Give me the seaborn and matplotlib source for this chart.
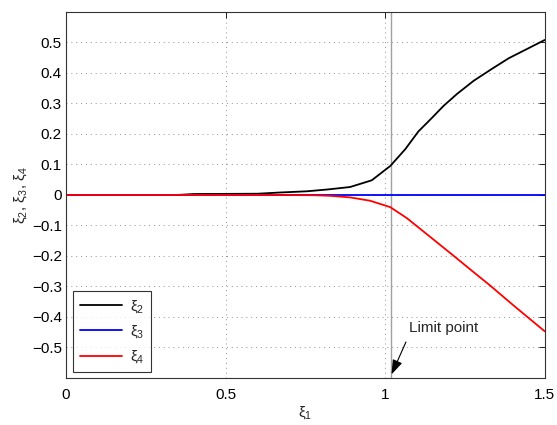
import matplotlib
matplotlib.use("Agg")
import matplotlib.pyplot as plt
import seaborn as sns
import pandas as pd

# data
xi2_x = [0, 0.35, 0.40, 0.60, 0.67, 0.755, 0.82, 0.89, 0.958, 1.016, 1.063, 1.104, 1.146, 1.183, 1.225, 1.277, 1.334, 1.387, 1.5]
xi2_y = [0, 0, 0.003, 0.004, 0.008, 0.012, 0.018, 0.026, 0.048, 0.095, 0.150, 0.208, 0.252, 0.292, 0.331, 0.374, 0.413, 0.448, 0.508]
xi3_x = [0, 1.5]
xi3_y = [0, 0]
xi4_x = [0, 0.67, 0.78, 0.83, 0.89, 0.953, 1.016, 1.068, 1.15, 1.214, 1.27, 1.329, 1.402, 1.5]
xi4_y = [0, 0, -0.001, -0.003, -0.008, -0.019, -0.040, -0.076, -0.145, -0.199, -0.247, -0.297, -0.362, -0.447]
limit_x = 1.018
x_ticks = [0, 0.5, 1, 1.5]
x_tick_labels = ["0", "0.5", "1", "1.5"]
y_ticks = [-0.5, -0.4, -0.3, -0.2, -0.1, 0, 0.1, 0.2, 0.3, 0.4, 0.5]
y_tick_labels = ["\u22120.5", "\u22120.4", "\u22120.3", "\u22120.2", "\u22120.1", "0", "0.1", "0.2", "0.3", "0.4", "0.5"]

sns.set_style("white")
plt.rcParams["font.family"] = ["Liberation Sans", "DejaVu Sans"]
plt.rcParams["mathtext.fontset"] = "custom"
plt.rcParams["mathtext.rm"] = "Liberation Sans"
plt.rcParams["mathtext.it"] = "Liberation Sans"

fig = plt.figure(figsize=(5.57, 4.25), dpi=100)
ax = fig.add_axes([0.1185, 0.1106, 0.8595, 0.8614])

df2 = pd.DataFrame({"x": xi2_x, "y": xi2_y})
df3 = pd.DataFrame({"x": xi3_x, "y": xi3_y})
df4 = pd.DataFrame({"x": xi4_x, "y": xi4_y})

ax.axvline(limit_x, color="#a0a0a0", lw=1.0, zorder=1)
sns.lineplot(data=df2, x="x", y="y", ax=ax, color="black", lw=1.3, label="\u03be$_2$", sort=False, estimator=None)
sns.lineplot(data=df3, x="x", y="y", ax=ax, color="blue", lw=1.3, label="\u03be$_3$", sort=False, estimator=None)
sns.lineplot(data=df4, x="x", y="y", ax=ax, color="red", lw=1.3, label="\u03be$_4$", sort=False, estimator=None)

ax.set_xlim(0, 1.5)
ax.set_ylim(-0.6, 0.6)
ax.set_xticks(x_ticks)
ax.set_xticklabels(x_tick_labels)
ax.set_yticks(y_ticks)
ax.set_yticklabels(y_tick_labels)
ax.tick_params(direction="in", length=4, width=0.6, top=True, right=True,
               labelsize=11, colors="black")
ax.tick_params(axis="y", pad=3)
ax.tick_params(axis="x", pad=7)
ax.grid(True, linestyle=(0, (1, 4)), color="#909090", lw=0.7)
for s in ax.spines.values():
    s.set_color("#333333")
    s.set_linewidth(0.8)

ax.set_xlabel("\u03be$_1$", fontsize=11, labelpad=2)
ax.set_ylabel("\u03be$_2$, \u03be$_3$, \u03be$_4$", fontsize=11, labelpad=2)

ax.annotate("Limit point", xy=(1.02, -0.588), xytext=(1.075, -0.436),
            fontsize=11, va="center", ha="left",
            arrowprops=dict(arrowstyle="-|>,head_length=0.8,head_width=0.28", color="black", lw=0.8,
                            shrinkA=3, shrinkB=0, relpos=(0.0, 0.0)))

leg = ax.legend(loc="lower left", bbox_to_anchor=(0.014, 0.016), fontsize=11,
                frameon=True, fancybox=False, handlelength=2.8, borderaxespad=0,
                labelspacing=0.55, handletextpad=0.5, borderpad=0.45)
leg.get_frame().set_edgecolor("black")
leg.get_frame().set_linewidth(0.8)

fig.savefig("out.png", dpi=100)
